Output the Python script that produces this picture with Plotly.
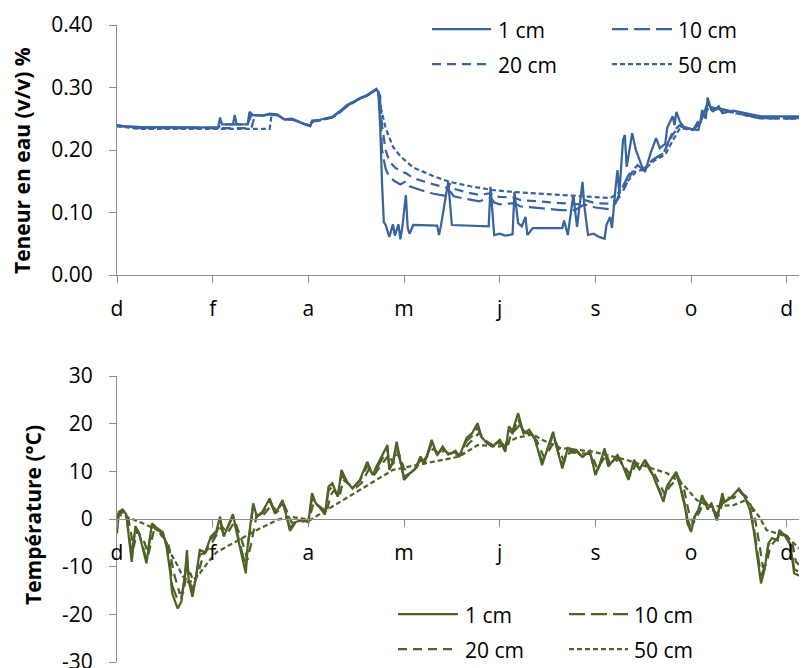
import plotly.graph_objects as go

W, H = 807, 668
OFF = 8                      # page body margin in the browser
FW, FH = W - OFF, H - OFF    # figure size that fits in the window
ML = 117 - OFF
PW = FW - ML

# ---------------- data ----------------
mois = ["d", "f", "a", "m", "j", "s", "o", "d"]
jours_mois = [0, 52, 104, 156, 208, 260, 312, 364]

eau_ticks = [0.0, 0.1, 0.2, 0.3, 0.4]
eau_labels = ["0.00", "0.10", "0.20", "0.30", "0.40"]
temp_ticks = [-30, -20, -10, 0, 10, 20, 30]
temp_labels = ["-30", "-20", "-10", "0", "10", "20", "30"]

# Teneur en eau (v/v)
jour_e1 = [0, 4, 12, 34, 55, 56, 57, 63, 64, 65, 71, 72, 74, 79, 83, 87, 91, 95, 99, 103,
           105, 106, 110, 114, 117, 121, 125, 129, 132, 136, 139, 141, 142, 143, 144, 145, 146, 148, 150, 151,
           153, 154, 155, 157, 158, 159, 161, 174, 175, 176, 180, 182, 202, 203, 205, 208, 211, 215, 216, 218,
           220, 222, 223, 226, 242, 243, 245, 248, 250, 253, 254, 256, 259, 262, 265, 266, 268, 269, 271, 272,
           273, 275, 276, 277, 280, 282, 285, 287, 290, 293, 295, 298, 299, 302, 303, 304, 306, 308, 313, 316,
           317, 318, 320, 321, 323, 324, 327, 329, 335, 342, 350, 375]
eau_1cm = [0.240, 0.238, 0.237, 0.236, 0.236, 0.252, 0.241, 0.241, 0.256, 0.241, 0.241, 0.261, 0.256, 0.255, 0.258, 0.257, 0.249, 0.250, 0.245, 0.240,
           0.238, 0.247, 0.248, 0.251, 0.253, 0.262, 0.272, 0.278, 0.283, 0.288, 0.294, 0.298, 0.293, 0.240, 0.150, 0.085, 0.080, 0.061, 0.081, 0.063,
           0.081, 0.057, 0.075, 0.128, 0.075, 0.066, 0.080, 0.079, 0.064, 0.078, 0.149, 0.080, 0.078, 0.141, 0.064, 0.066, 0.063, 0.065, 0.133, 0.083,
           0.078, 0.093, 0.064, 0.075, 0.075, 0.087, 0.064, 0.128, 0.077, 0.149, 0.110, 0.064, 0.066, 0.061, 0.058, 0.080, 0.093, 0.075, 0.141, 0.168,
           0.130, 0.216, 0.224, 0.173, 0.227, 0.200, 0.176, 0.165, 0.195, 0.219, 0.203, 0.210, 0.235, 0.254, 0.240, 0.261, 0.245, 0.237, 0.233, 0.232,
           0.245, 0.264, 0.250, 0.284, 0.264, 0.262, 0.270, 0.259, 0.263, 0.259, 0.254, 0.254]

jour_e10 = [0, 12, 55, 57, 71, 73, 79, 83, 87, 91, 95, 99, 103, 105, 106, 110, 114, 117, 121, 125,
            129, 132, 136, 139, 141, 143, 144, 146, 148, 151, 154, 157, 159, 165, 172, 180, 181, 183, 189, 197,
            203, 205, 208, 216, 219, 230, 241, 249, 254, 260, 268, 271, 273, 278, 283, 286, 291, 297, 302, 306,
            308, 313, 317, 321, 324, 328, 335, 342, 349, 375]
eau_10cm = [0.239, 0.236, 0.236, 0.241, 0.241, 0.256, 0.255, 0.257, 0.256, 0.249, 0.249, 0.245, 0.240, 0.239, 0.246, 0.248, 0.250, 0.252, 0.261, 0.271,
            0.277, 0.282, 0.287, 0.293, 0.297, 0.280, 0.200, 0.170, 0.157, 0.150, 0.145, 0.150, 0.142, 0.136, 0.130, 0.126, 0.134, 0.126, 0.122, 0.118,
            0.124, 0.116, 0.113, 0.115, 0.110, 0.107, 0.104, 0.104, 0.113, 0.108, 0.105, 0.115, 0.130, 0.160, 0.176, 0.168, 0.184, 0.195, 0.229, 0.240,
            0.236, 0.232, 0.243, 0.275, 0.262, 0.266, 0.261, 0.257, 0.251, 0.251]

jour_e20 = [0, 12, 73, 75, 79, 83, 87, 91, 95, 99, 103, 105, 106, 110, 114, 117, 121, 125, 129, 132,
            136, 139, 141, 143, 144, 146, 148, 151, 154, 157, 161, 172, 180, 181, 183, 189, 197, 203, 205, 208,
            216, 219, 230, 241, 252, 254, 260, 268, 272, 276, 280, 286, 291, 297, 302, 306, 313, 321, 328, 342,
            349, 375]
eau_20cm = [0.239, 0.235, 0.235, 0.256, 0.255, 0.257, 0.256, 0.249, 0.249, 0.244, 0.240, 0.239, 0.245, 0.248, 0.250, 0.252, 0.260, 0.270, 0.277, 0.282,
            0.287, 0.293, 0.297, 0.287, 0.240, 0.200, 0.182, 0.172, 0.166, 0.163, 0.155, 0.145, 0.139, 0.146, 0.138, 0.133, 0.128, 0.131, 0.126, 0.125,
            0.124, 0.120, 0.117, 0.115, 0.113, 0.120, 0.115, 0.114, 0.120, 0.140, 0.165, 0.168, 0.184, 0.195, 0.225, 0.238, 0.232, 0.270, 0.265, 0.256,
            0.251, 0.250]

jour_e50 = [0, 12, 83, 84, 87, 91, 95, 99, 103, 105, 106, 110, 114, 117, 121, 125, 129, 132, 136, 139,
            141, 142, 143, 146, 150, 154, 161, 172, 181, 192, 204, 215, 230, 248, 268, 272, 276, 282, 287, 292,
            298, 302, 306, 313, 321, 328, 342, 349, 375]
eau_50cm = [0.238, 0.234, 0.234, 0.256, 0.256, 0.249, 0.249, 0.244, 0.240, 0.239, 0.245, 0.247, 0.250, 0.252, 0.260, 0.270, 0.277, 0.282, 0.287, 0.293,
            0.297, 0.295, 0.272, 0.235, 0.205, 0.190, 0.172, 0.158, 0.149, 0.142, 0.136, 0.133, 0.130, 0.126, 0.123, 0.130, 0.145, 0.165, 0.170, 0.183,
            0.193, 0.215, 0.235, 0.232, 0.265, 0.264, 0.256, 0.251, 0.250]

# Température (°C)
jour_t1 = [0, 1, 3, 5, 8, 10, 12, 14, 16, 19, 22, 25, 27, 29, 30, 33, 35, 37, 38, 39,
           41, 43, 45, 48, 51, 54, 56, 58, 63, 66, 70, 71, 74, 76, 79, 83, 86, 90, 92, 94,
           97, 101, 104, 106, 108, 110, 113, 115, 117, 120, 122, 125, 128, 132, 136, 139, 141, 144, 147, 148,
           150, 152, 155, 156, 159, 162, 165, 167, 171, 174, 177, 180, 184, 186, 190, 193, 196, 198, 201, 204,
           208, 211, 213, 215, 218, 221, 224, 227, 231, 234, 237, 239, 242, 245, 250, 253, 257, 260, 262, 265,
           267, 272, 274, 278, 281, 284, 287, 291, 297, 299, 304, 306, 309, 310, 312, 314, 316, 318, 321, 323,
           326, 329, 330, 334, 338, 341, 344, 346, 348, 350, 352, 354, 356, 359, 360, 363, 366, 368, 371, 373,
           375]
temp_1cm = [-3.0, 1.5, 2.0, 1.0, -9.0, -1.5, -3.0, -6.0, -9.3, -0.9, -2.0, -2.8, -6.0, -11.4, -15.6, -18.8, -17.3, -11.4, -6.5, -13.0,
            -16.3, -12.0, -6.5, -7.0, -3.7, -2.5, 0.5, -3.7, 1.0, -4.5, -11.4, -5.8, 3.3, 0.5, 1.5, 4.3, 1.1, 4.0, 1.0, -2.5,
            -0.7, 0.0, -0.7, 5.4, 3.3, 2.6, 0.9, 6.8, 7.5, 4.7, 10.3, 7.8, 6.4, 8.2, 12.0, 9.2, 11.0, 13.1, 15.5, 10.3,
            12.0, 16.2, 10.3, 8.2, 9.5, 10.5, 13.1, 11.5, 16.6, 13.4, 15.2, 13.5, 14.3, 13.1, 17.0, 18.0, 20.1, 17.3, 15.9, 15.2,
            16.6, 14.1, 19.4, 18.5, 22.2, 18.0, 18.7, 17.0, 11.3, 14.9, 18.3, 15.0, 10.6, 14.9, 14.3, 13.0, 14.3, 9.2, 11.0, 14.8,
            11.0, 13.4, 12.0, 8.2, 12.4, 10.5, 12.4, 9.5, 3.6, 7.0, 9.9, 7.0, 1.9, -0.9, -2.7, 0.5, 1.9, 5.0, 2.0, 3.3,
            -0.3, 5.4, 3.5, 4.6, 6.4, 4.8, 1.9, -2.3, -7.9, -13.5, -10.5, -5.1, -4.0, -4.5, -2.3, -3.5, -5.5, -11.4, -11.9, -9.5,
            -7.9]

jour_t10 = [0, 1, 3, 5, 8, 10, 12, 14, 16, 19, 22, 25, 27, 29, 30, 33, 35, 37, 38, 39,
            41, 43, 45, 48, 51, 54, 56, 58, 63, 66, 70, 71, 74, 76, 79, 83, 86, 90, 92, 94,
            97, 101, 104, 106, 108, 110, 113, 115, 117, 120, 122, 125, 128, 132, 136, 139, 141, 144, 147, 148,
            150, 152, 155, 156, 159, 162, 165, 167, 171, 174, 177, 180, 184, 186, 190, 193, 196, 198, 201, 204,
            208, 211, 213, 215, 218, 221, 224, 227, 231, 234, 237, 239, 242, 245, 250, 253, 257, 260, 262, 265,
            267, 272, 274, 278, 281, 284, 287, 291, 297, 299, 304, 306, 309, 310, 312, 314, 316, 318, 321, 323,
            326, 329, 330, 334, 338, 341, 344, 346, 348, 350, 352, 354, 356, 359, 360, 363, 366, 368, 371, 373,
            375]
temp_10cm = [-1.0, 1.2, 1.8, 1.0, -7.5, -1.8, -3.0, -5.5, -8.5, -1.5, -2.2, -3.0, -5.5, -10.0, -14.0, -17.0, -16.5, -12.0, -8.0, -12.5,
             -15.0, -12.0, -7.5, -7.0, -4.2, -3.0, -0.5, -3.5, 0.5, -4.0, -10.0, -6.0, 2.5, 0.5, 1.2, 3.8, 1.2, 3.5, 1.0, -1.8,
             -0.8, -0.2, -0.5, 4.5, 3.2, 2.5, 1.2, 6.0, 6.8, 4.8, 9.3, 7.6, 6.5, 8.0, 11.2, 9.3, 10.5, 12.5, 14.5, 10.8,
             11.8, 15.2, 10.8, 8.8, 9.6, 10.5, 12.5, 11.6, 15.8, 13.5, 14.8, 13.6, 14.0, 13.2, 16.4, 17.4, 19.2, 17.2, 15.9, 15.3,
             16.3, 14.4, 18.6, 18.0, 21.0, 18.0, 18.4, 16.8, 12.0, 14.6, 17.6, 15.0, 11.2, 14.4, 14.0, 13.0, 13.9, 9.8, 11.0, 14.2,
             11.2, 13.0, 11.8, 8.6, 12.0, 10.4, 12.0, 9.3, 4.2, 6.8, 9.4, 7.0, 2.5, 0.0, -2.0, 0.6, 1.9, 4.6, 2.3, 3.2,
             0.2, 5.0, 3.6, 4.5, 6.0, 4.8, 2.2, -1.5, -6.5, -12.0, -10.0, -5.5, -4.2, -4.4, -2.6, -3.4, -5.2, -10.5, -11.2, -9.2,
             -7.8]

jour_t20 = [0, 3, 6, 9, 11, 15, 17, 20, 24, 28, 31, 34, 36, 38, 40, 42, 44, 47, 50, 53,
            57, 60, 64, 67, 71, 73, 76, 80, 84, 87, 91, 95, 99, 104, 107, 111, 114, 116, 118, 121,
            123, 126, 130, 133, 137, 140, 145, 148, 150, 153, 156, 160, 166, 172, 175, 178, 181, 187, 191, 194,
            197, 200, 205, 209, 212, 214, 219, 222, 225, 228, 232, 235, 238, 243, 246, 251, 258, 261, 266, 268,
            273, 279, 282, 288, 292, 298, 300, 305, 308, 311, 313, 317, 319, 322, 327, 330, 335, 339, 342, 345,
            347, 349, 351, 353, 355, 358, 361, 364, 367, 369, 372, 375]
temp_20cm = [0.5, 1.5, 0.5, -6.0, -2.5, -5.0, -7.5, -2.5, -3.0, -5.5, -11.5, -15.5, -15.5, -11.0, -11.5, -13.5, -11.5, -7.5, -6.0, -4.0,
             -1.5, -3.0, -0.5, -3.5, -8.5, -5.0, 1.0, 1.0, 3.0, 1.5, 2.8, -0.8, -0.6, -0.4, 3.5, 2.4, 1.5, 5.0, 6.0, 4.8,
             8.2, 7.3, 6.6, 7.6, 10.5, 9.4, 12.0, 13.6, 11.5, 14.0, 10.5, 9.8, 12.0, 14.8, 13.5, 14.4, 13.5, 13.5, 15.8, 16.8,
             18.2, 16.5, 15.3, 16.0, 14.8, 17.6, 19.8, 18.0, 18.0, 16.5, 13.0, 14.5, 16.6, 12.0, 14.0, 13.8, 13.6, 10.5, 13.6, 11.5,
             12.6, 9.2, 11.5, 11.6, 9.5, 5.0, 6.6, 8.8, 6.5, 1.0, -1.0, 1.8, 4.0, 2.5, 0.8, 4.5, 4.4, 5.6, 4.7, 2.5,
             -0.5, -5.0, -10.0, -9.5, -5.8, -4.4, -3.0, -3.5, -5.0, -9.0, -10.0, -8.5]

jour_t50 = [0, 5, 14, 22, 27, 30, 33, 35, 38, 41, 45, 49, 54, 61, 68, 76, 87, 94, 105, 114,
            123, 132, 150, 168, 186, 196, 208, 217, 226, 231, 241, 259, 277, 290, 299, 308, 315, 322, 335, 342,
            349, 353, 364, 371, 375]
temp_50cm = [1.0, 0.5, -0.9, -2.3, -5.0, -7.8, -9.8, -11.5, -13.3, -13.0, -11.4, -9.3, -7.0, -5.5, -4.0, -2.3, -0.2, 0.5, -0.2, 1.9,
             4.0, 6.1, 10.3, 11.7, 13.1, 15.5, 15.2, 17.0, 17.8, 16.6, 14.9, 14.1, 12.4, 10.7, 9.6, 7.1, 4.0, 2.6, 2.9, 4.0,
             0.5, -2.3, -3.7, -6.2, -8.0]

profondeurs = ["1 cm", "10 cm", "20 cm", "50 cm"]

# ---------------- styles ----------------
BLEU = "#3A64A0"
VERT = "#4F6228"
GRIS = "#8C8C8C"
FONT = "Open Sans"
TSIZE = 21
LW = 2.25
dashes = {"1 cm": "solid", "10 cm": "16px,6px", "20 cm": "9px,6px", "50 cm": "5px,3px"}


def X(px):
    """reference pixel x -> paper fraction"""
    return (px - OFF - ML) / PW


def Y(py):
    """reference pixel y -> paper fraction"""
    return 1 - (py - OFF) / FH


fig = go.Figure()

eau = [(jour_e1, eau_1cm), (jour_e10, eau_10cm), (jour_e20, eau_20cm), (jour_e50, eau_50cm)]
temp = [(jour_t1, temp_1cm), (jour_t10, temp_10cm), (jour_t20, temp_20cm), (jour_t50, temp_50cm)]

for name, (xs, ys) in zip(profondeurs, eau):
    fig.add_trace(go.Scatter(x=xs, y=ys, mode="lines", name=name, showlegend=False,
                             line=dict(color=BLEU, width=LW, dash=dashes[name]),
                             xaxis="x", yaxis="y"))
for name, (xs, ys) in zip(profondeurs, temp):
    fig.add_trace(go.Scatter(x=xs, y=ys, mode="lines", name=name, showlegend=False,
                             line=dict(color=VERT, width=LW, dash=dashes[name]),
                             xaxis="x2", yaxis="y2"))

top_dom = [Y(275), Y(25)]
bot_dom = [Y(662), Y(376)]
zero_pos = bot_dom[0] + (bot_dom[1] - bot_dom[0]) * 0.5

axis_common = dict(showline=True, linecolor=GRIS, linewidth=1, ticks="outside", ticklen=7,
                   tickcolor=GRIS, tickwidth=1, showgrid=False, zeroline=False, automargin=False,
                   ticklabeloverflow="allow",
                   tickfont=dict(family=FONT, size=TSIZE, color="black"))

fig.update_layout(
    width=FW, height=FH,
    margin=dict(l=ML, r=0, t=0, b=0, pad=0, autoexpand=False),
    paper_bgcolor="white", plot_bgcolor="white",
    showlegend=False,
    xaxis=dict(domain=[0, 1], range=[0, 375], anchor="y", tickmode="array",
               tickvals=jours_mois, ticktext=mois, ticklabelstandoff=8, **axis_common),
    yaxis=dict(domain=top_dom, range=[0, 0.40], tickmode="array", tickvals=eau_ticks,
               ticktext=eau_labels, anchor="x", ticklabelstandoff=12, **axis_common),
    xaxis2=dict(domain=[0, 1], range=[0, 375], anchor="free", position=zero_pos, tickmode="array",
                tickvals=jours_mois, ticktext=mois, ticklabelstandoff=8, **axis_common),
    yaxis2=dict(domain=bot_dom, range=[-30, 30], tickmode="array", tickvals=temp_ticks,
                ticktext=temp_labels, anchor="x2", ticklabelstandoff=12, **axis_common),
)

# y-axis titles
fig.add_annotation(text="<b>Teneur en eau (v/v) %</b>", textangle=-90, xref="paper", yref="paper",
                   x=X(22), y=Y(161), xanchor="center", yanchor="middle", showarrow=False,
                   font=dict(family=FONT, size=TSIZE, color="black"))
fig.add_annotation(text="<b>Température (°C)</b>", textangle=-90, xref="paper", yref="paper",
                   x=X(33), y=Y(515), xanchor="center", yanchor="middle", showarrow=False,
                   font=dict(family=FONT, size=TSIZE, color="black"))


# legends (2 columns x 2 rows)
def legend_block(color, cols, rows):
    for i, name in enumerate(profondeurs):
        r, c = divmod(i, 2)
        x0, x1, xt = cols[c]
        yy = rows[r]
        fig.add_shape(type="line", xref="paper", yref="paper", x0=X(x0), x1=X(x1), y0=Y(yy), y1=Y(yy),
                      line=dict(color=color, width=LW, dash=dashes[name]))
        fig.add_annotation(text=name, xref="paper", yref="paper", x=X(xt), y=Y(yy + 1),
                           xanchor="left", yanchor="middle", showarrow=False,
                           font=dict(family=FONT, size=TSIZE, color="black"))


legend_block(BLEU, [(432, 491, 496), (612, 672, 676)], [29, 64])
legend_block(VERT, [(398, 458, 463), (569, 628, 632)], [614, 649])

fig.write_html("out.html")
